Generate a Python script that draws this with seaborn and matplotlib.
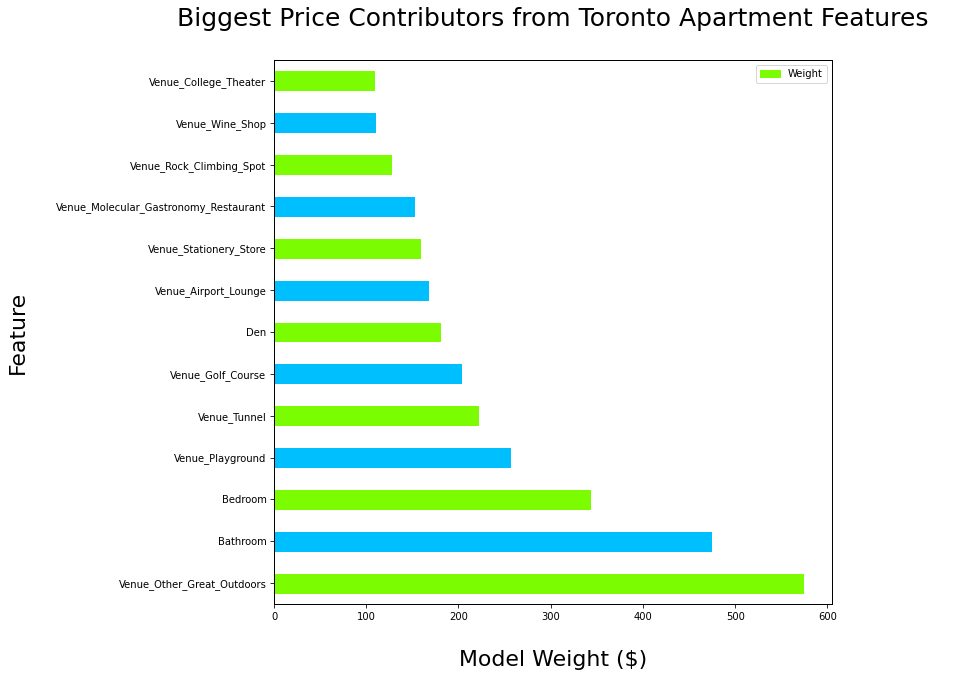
import pandas as pd
import matplotlib
matplotlib.use('Agg')
import matplotlib.pyplot as plt
from matplotlib.patches import Patch
import seaborn as sns

# top to bottom, as drawn
features = ['Venue_College_Theater', 'Venue_Wine_Shop', 'Venue_Rock_Climbing_Spot',
            'Venue_Molecular_Gastronomy_Restaurant', 'Venue_Stationery_Store',
            'Venue_Airport_Lounge', 'Den', 'Venue_Golf_Course', 'Venue_Tunnel',
            'Venue_Playground', 'Bedroom', 'Bathroom', 'Venue_Other_Great_Outdoors']
weights = [109.5, 110.5, 128, 153, 159, 168, 181, 204, 222, 257, 344, 475, 575]
green, blue = '#7CFC00', '#00BFFF'
bar_colors = [green, blue] * 6 + [green]

df = pd.DataFrame({'Feature': features, 'Weight': weights})

sns.set_style("ticks")
plt.rcParams['font.family'] = ['DejaVu Sans']
plt.rcParams['text.color'] = 'black'
plt.rcParams['axes.labelcolor'] = 'black'
plt.rcParams['xtick.color'] = 'black'
plt.rcParams['ytick.color'] = 'black'

fig = plt.figure(figsize=(959 / 72, 688 / 72), dpi=72)
ax = fig.add_axes([274 / 959, 1 - 604 / 688, (832 - 274) / 959, (604 - 60) / 688])

sns.barplot(data=df, x='Weight', y='Feature', hue='Feature', palette=bar_colors,
            width=0.5, legend=False, saturation=1, ax=ax)

for s in ax.spines.values():
    s.set_color('black')
    s.set_linewidth(1)

ax.set_xlim(0, 605)
ax.set_ylim(12.5, -0.5)
ax.set_xticks([0, 100, 200, 300, 400, 500, 600])
ax.tick_params(axis='both', labelsize=10, color='black', length=4)
ax.set_title('Biggest Price Contributors from Toronto Apartment Features',
             fontsize=25, pad=34)
ax.set_xlabel('Model Weight ($)', fontsize=22, labelpad=28)
ax.set_ylabel('Feature', fontsize=22, labelpad=28)
ax.legend(handles=[Patch(color=green, label='Weight')], loc='upper right', fontsize=10)

fig.savefig('out.png', dpi=72)
